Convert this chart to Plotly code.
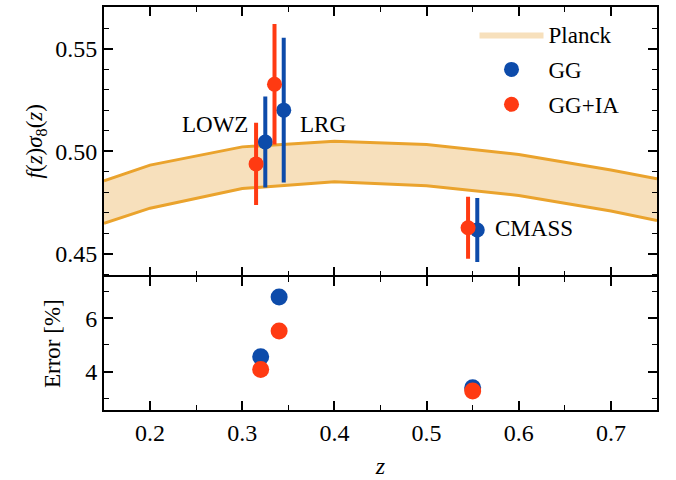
import plotly.graph_objects as go
from plotly.subplots import make_subplots

# ---------------- data ----------------
samples = ["LOWZ", "LRG", "CMASS"]
z_eff = [0.32, 0.34, 0.55]
z_shift = 0.005

gg_fs8 = [0.5045, 0.5200, 0.4616]
gg_err = [0.0222, 0.0353, 0.0156]
ia_fs8 = [0.4938, 0.5326, 0.4627]
ia_err = [0.0201, 0.0294, 0.0151]

gg_pct = [4.55, 6.79, 3.39]
ia_pct = [4.08, 5.52, 3.27]

planck_z = [0.15, 0.2, 0.3, 0.4, 0.5, 0.6, 0.7, 0.75]
planck_hi = [0.4855, 0.4932, 0.5021, 0.5048, 0.5032, 0.4984, 0.4908, 0.4865]
planck_lo = [0.4648, 0.4722, 0.4818, 0.4851, 0.4832, 0.4784, 0.4708, 0.4662]

x_ticks = [0.2, 0.3, 0.4, 0.5, 0.6, 0.7]
y_ticks_top = [0.45, 0.50, 0.55]
y_ticks_bot = [4, 6]

# ---------------- style ----------------
BLUE = "#0D4BAA"
RED = "#FF3A12"
ORANGE = "#EAA32D"
FILL = "#F7E0BC"
FONT = "Liberation Serif, DejaVu Serif, serif"
FS = 24
LW = 1.8
PLOT_H = 480 - 5 - 64

fig = make_subplots(rows=2, cols=1, shared_xaxes=True,
                    vertical_spacing=LW / PLOT_H,
                    row_heights=[275, 136])

# Planck band
fig.add_trace(go.Scatter(
    x=planck_z + planck_z[::-1], y=planck_hi + planck_lo[::-1],
    fill="toself", fillcolor=FILL, line=dict(width=0), mode="lines",
    name="Planck", legendgroup="a", hoverinfo="skip"), row=1, col=1)
for arr in (planck_hi, planck_lo):
    fig.add_trace(go.Scatter(x=planck_z, y=arr, mode="lines",
                             line=dict(color=ORANGE, width=3),
                             showlegend=False, hoverinfo="skip"), row=1, col=1)

# measurements
fig.add_trace(go.Scatter(
    x=[z + z_shift for z in z_eff], y=gg_fs8, mode="markers",
    marker=dict(color=BLUE, size=15),
    error_y=dict(type="data", array=gg_err, color=BLUE, thickness=4, width=0),
    name="GG", legendgroup="b"), row=1, col=1)
fig.add_trace(go.Scatter(
    x=[z - z_shift for z in z_eff], y=ia_fs8, mode="markers",
    marker=dict(color=RED, size=15),
    error_y=dict(type="data", array=ia_err, color=RED, thickness=4, width=0),
    name="GG+IA", legendgroup="c"), row=1, col=1)

# error panel
fig.add_trace(go.Scatter(x=z_eff, y=gg_pct, mode="markers",
                         marker=dict(color=BLUE, size=17), showlegend=False),
              row=2, col=1)
fig.add_trace(go.Scatter(x=z_eff, y=ia_pct, mode="markers",
                         marker=dict(color=RED, size=17), showlegend=False),
              row=2, col=1)

# sample labels
lab_dx = [-0.0063, 0.021, 0.0217]
lab_anchor = ["right", "left", "left"]
lab_y = [0.5132, 0.5132, 0.4622]
for name, z, dx, anc, y in zip(samples, z_eff, lab_dx, lab_anchor, lab_y):
    fig.add_annotation(x=z + dx - (z_shift if anc == "right" else 0), y=y,
                       text=name, showarrow=False, xanchor=anc, yanchor="middle",
                       font=dict(family=FONT, size=FS - 1, color="black"),
                       xref="x", yref="y")

axis_common = dict(showline=True, linecolor="black", linewidth=LW, mirror="allticks",
                   ticks="inside", ticklen=9, tickwidth=1.6, tickcolor="black",
                   showgrid=False, zeroline=False,
                   tickfont=dict(family=FONT, size=FS, color="black"))

fig.update_xaxes(range=[0.15, 0.75], tickvals=x_ticks, tickformat=".1f",
                 minor=dict(dtick=0.05, tick0=0.15, ticks="inside", ticklen=5,
                            tickwidth=1.4, tickcolor="black"),
                 **axis_common)
fig.update_xaxes(showticklabels=False, row=1, col=1)
fig.update_xaxes(title=dict(text="<i>z</i>", font=dict(family=FONT, size=FS),
                            standoff=12), row=2, col=1)

fig.update_yaxes(range=[0.4394, 0.5703], tickvals=y_ticks_top, tickformat=".2f",
                 minor=dict(dtick=0.01, tick0=0.44, ticks="inside", ticklen=5,
                            tickwidth=1.4, tickcolor="black"),
                 title=dict(text="<i>f</i>(<i>z</i>)<i>σ</i><sub>8</sub>(<i>z</i>)",
                            font=dict(family=FONT, size=FS - 1), standoff=6),
                 row=1, col=1, **axis_common)
fig.update_yaxes(range=[2.56, 7.53], tickvals=y_ticks_bot,
                 minor=dict(dtick=1, tick0=3, ticks="inside", ticklen=5,
                            tickwidth=1.4, tickcolor="black"),
                 title=dict(text="Error [%]", font=dict(family=FONT, size=FS - 1),
                            standoff=18),
                 row=2, col=1, **axis_common)

fig.update_layout(
    width=676, height=480,
    margin=dict(l=104, r=19, t=5, b=64),
    paper_bgcolor="white", plot_bgcolor="white",
    font=dict(family=FONT, size=FS, color="black"),
    showlegend=True,
    legend=dict(x=0.670, y=0.985, xanchor="left", yanchor="top",
                bgcolor="rgba(0,0,0,0)", font=dict(family=FONT, size=FS - 1),
                tracegroupgap=2, itemwidth=64),
)

fig.write_html("out.html", config={"displayModeBar": False},
               post_script="document.body.style.margin='0';document.body.style.overflow='hidden';")
